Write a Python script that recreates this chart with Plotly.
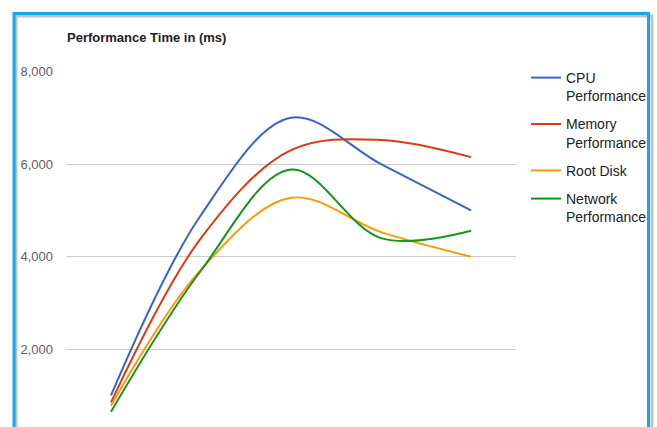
import plotly.graph_objects as go

categories = ["1", "2", "3", "4", "5"]
cpu = [1000, 4900, 7000, 6000, 5000]
memory = [850, 4400, 6300, 6520, 6150]
root_disk = [780, 3720, 5270, 4530, 4000]
network = [650, 3700, 5880, 4400, 4560]

series_names = ["CPU<br>Performance", "Memory<br>Performance", "Root Disk", "Network<br>Performance"]
series_values = [cpu, memory, root_disk, network]
colors = ["#3366CC", "#DC3912", "#FF9900", "#109618"]

y_ticks = [2000, 4000, 6000, 8000]
y_tick_text = ["2,000", "4,000", "6,000", "8,000"]

FONT = "Liberation Sans, Arial, sans-serif"

fig = go.Figure()
for i, (name, vals, col) in enumerate(zip(series_names, series_values, colors)):
    fig.add_trace(go.Scatter(
        x=categories, y=vals, name=name, mode="lines",
        line=dict(color=col, width=2, shape="spline", smoothing=1.0),
        legendgroup=f"g{i}", hoverinfo="skip",
    ))

W, H = 657, 427
L, R, T, B = 66, 141, 71, 0
pw, ph = W - L - R, H - T - B

def px(x):
    return (x - L) / pw

def py(y):
    return (H - B - y) / ph

fig.update_layout(
    width=W, height=H,
    margin=dict(l=L, r=R, t=T, b=B),
    paper_bgcolor="white", plot_bgcolor="white",
    font=dict(family=FONT, size=14, color="#222222"),
    showlegend=True,
    legend=dict(
        x=px(526), xanchor="left", y=py(62), yanchor="top",
        font=dict(family=FONT, size=14, color="#222222"),
        valign="top", tracegroupgap=7, bgcolor="rgba(0,0,0,0)",
        itemwidth=30,
    ),
    xaxis=dict(
        type="category", range=[-0.5, 4.5], showgrid=False, zeroline=False,
        showticklabels=False, showline=False, ticks="",
    ),
    yaxis=dict(
        range=[319, 8010], tickvals=y_ticks, ticktext=y_tick_text,
        showgrid=True, gridcolor="#cccccc", gridwidth=1, zeroline=False,
        showline=False, ticks="", ticklabelstandoff=12,
        tickfont=dict(family=FONT, size=13, color="#5f5f5f"),
    ),
    annotations=[dict(
        text="<b>Performance Time in (ms)</b>", xref="paper", yref="paper",
        x=px(65), y=py(37), xanchor="left", yanchor="middle", showarrow=False,
        font=dict(family=FONT, size=13, color="#222222"),
    )],
    shapes=[
        dict(type="rect", xref="paper", yref="paper",
             x0=px(16), x1=px(652), y0=py(460), y1=py(16),
             line=dict(color="rgba(120,120,120,0.45)", width=3), layer="below"),
        dict(type="rect", xref="paper", yref="paper",
             x0=px(14), x1=px(648.5), y0=py(460), y1=py(13.5),
             line=dict(color="#14A9EC", width=3), layer="above"),
    ],
)

fig.write_html("out.html", config={"displayModeBar": False},
               post_script="document.body.style.margin='0px';")
